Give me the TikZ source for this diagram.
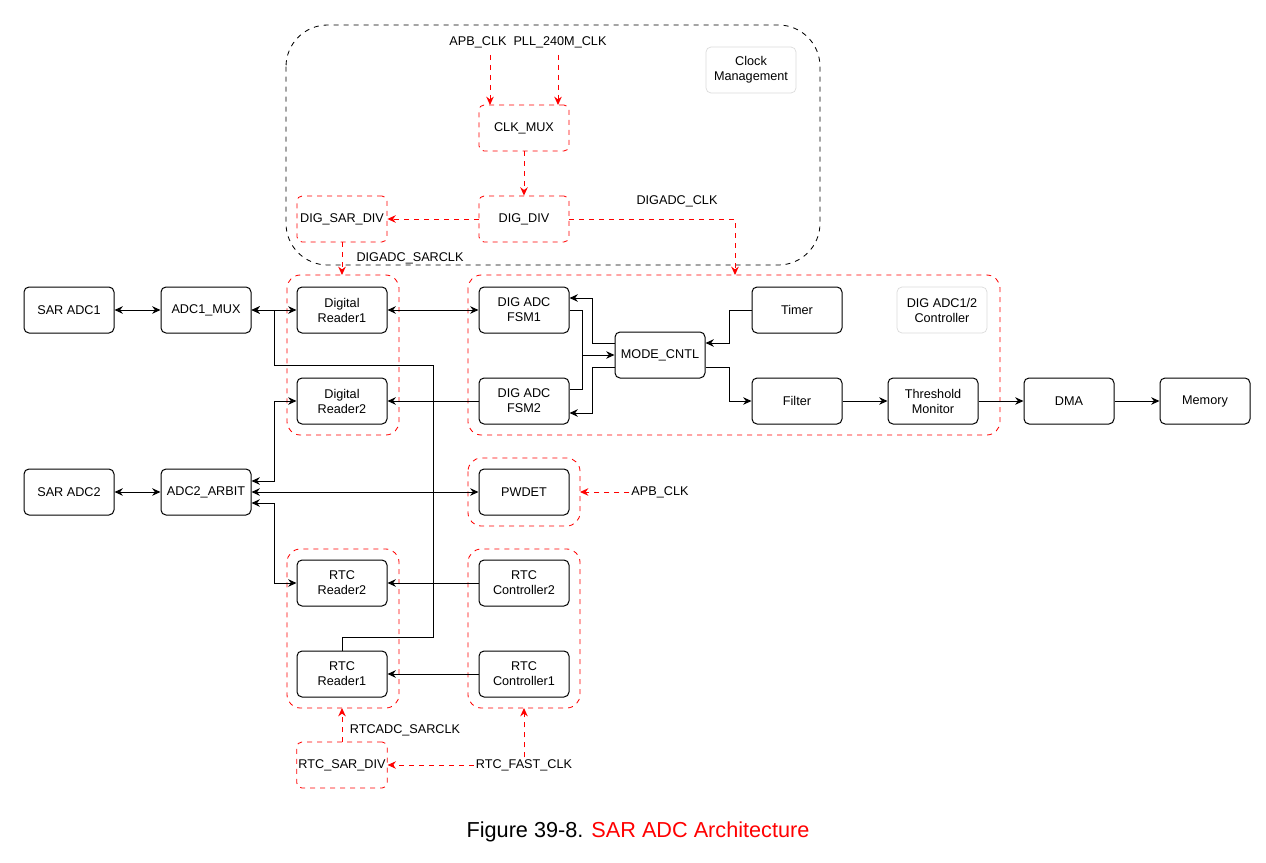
\documentclass[tikz,border=0pt]{standalone}
\usepackage{fontspec}
\setmainfont{Liberation Sans}
\usetikzlibrary{arrows.meta}
\begin{document}
\begin{tikzpicture}[x=0.6pt,y=-0.6pt,
  box/.style={draw,rounded corners=3pt,minimum width=54pt,minimum height=27.6pt,align=center,font=\fontsize{7.6}{9}\selectfont,inner sep=1pt,line width=0.6pt},
  lbl/.style={font=\fontsize{7.6}{9}\selectfont,inner sep=1pt},
  grp/.style={draw=red,dashed,rounded corners=8pt,line width=0.5pt},
  cbox/.style={draw=gray!30,rounded corners=3pt,minimum width=54pt,minimum height=27.6pt,align=center,font=\fontsize{7.6}{9}\selectfont,inner sep=1pt},
  ar/.style={-{Stealth[length=5pt,width=4.5pt]},line width=0.6pt},
  bar/.style={{Stealth[length=5pt,width=4.5pt]}-{Stealth[length=5pt,width=4.5pt]},line width=0.6pt},
  rar/.style={-{Stealth[length=5pt,width=4.5pt]},red,dashed,line width=0.6pt},
  rbox/.style={box,draw=red,dashed,line width=0.5pt}]
\useasboundingbox (0,0) rectangle (1266,863);
% groups
\draw[dashed,rounded corners=25pt,line width=0.5pt] (286,25) rectangle (820,265);
\draw[grp] (287,275) rectangle (399,435);
\draw[grp] (468,275) rectangle (1000,435);
\draw[grp] (468,458) rectangle (580,526);
\draw[grp] (287,549) rectangle (399,708);
\draw[grp] (468,549) rectangle (580,708);
% nodes
\node[box] (sar1) at (69,310) {SAR ADC1};
\node[box] (mux1) at (206,310) {ADC1\_MUX};
\node[box] (dr1) at (342,310) {Digital\\Reader1};
\node[box] (dr2) at (342,401) {Digital\\Reader2};
\node[box] (sar2) at (69,492) {SAR ADC2};
\node[box] (arb) at (206,492) {ADC2\_ARBIT};
\node[box] (rr2) at (342,583) {RTC\\Reader2};
\node[box] (rr1) at (342,674) {RTC\\Reader1};
\node[box] (fsm1) at (524,310) {DIG ADC\\FSM1};
\node[box] (fsm2) at (524,401) {DIG ADC\\FSM2};
\node[box] (mode) at (660,355) {MODE\_CNTL};
\node[box] (timer) at (797,310) {Timer};
\node[box] (filter) at (797,401) {Filter};
\node[box] (thr) at (933,401) {Threshold\\Monitor};
\node[box] (dma) at (1069,401) {DMA};
\node[box] (mem) at (1205,401) {Memory};
\node[box] (pwdet) at (524,492) {PWDET};
\node[box] (rc2) at (524,583) {RTC\\Controller2};
\node[box] (rc1) at (524,674) {RTC\\Controller1};
\node[rbox] (clkmux) at (524,128) {CLK\_MUX};
\node[rbox] (digdiv) at (524,219) {DIG\_DIV};
\node[rbox] (sardiv) at (342,219) {DIG\_SAR\_DIV};
\node[rbox] (rtcdiv) at (342,765) {RTC\_SAR\_DIV};
\node[cbox] (cm) at (751,70) {Clock\\Management};
\node[cbox] (dc) at (942,310) {DIG ADC1/2\\Controller};
% labels
\node[lbl] (apb) at (478,42) {APB\_CLK};
\node[lbl] (pll) at (560,42) {PLL\_240M\_CLK};
\node[lbl] (digclk) at (677,201) {DIGADC\_CLK};
\node[lbl] (sarclk) at (410,258) {DIGADC\_SARCLK};
\node[lbl] (apb2) at (660,492) {APB\_CLK};
\node[lbl] (rtcsar) at (405,730) {RTCADC\_SARCLK};
\node[lbl] (fast) at (524,765) {RTC\_FAST\_CLK};
\coordinate (c1) at (735,275);
\coordinate (c2) at (342,275);
\coordinate (c3) at (342,708);
\coordinate (c4) at (524,708);
% red arrows
\draw[rar] (490,55) -- (490,105);
\draw[rar] (558,55) -- (558,105);
\draw[rar] (clkmux) -- (digdiv);
\draw[rar] (digdiv) -- (sardiv);
\draw[rar] (digdiv.east) -| (c1);
\draw[rar] (sardiv) -- (c2);
\draw[rar] (apb2) -- (pwdet.east -| 580,0);
\draw[rar] (rtcdiv) -- (c3);
\draw[rar] (fast) -- (rtcdiv);
\draw[rar] (fast) -- (c4);
% black
\draw[bar] (sar1) -- (mux1);
\draw[bar] (mux1) -- (dr1);
\draw[ar,line width=0.6pt] (rr1.north) -- (342,637) -- (433,637) -- (433,365) -- (274,365) -- (274,310) -- (mux1.east);
\draw[bar] (dr1) -- (fsm1);
\draw[ar] (fsm2) -- (dr2);
\draw[bar] (arb.east |- 0,481) -- (274,481) -- (274,401) -- (dr2.west);
\draw[bar] (arb) -- (pwdet);
\draw[bar] (arb.east |- 0,503) -- (274,503) -- (274,583) -- (rr2.west);
\draw[ar] (rc2) -- (rr2);
\draw[ar] (rc1) -- (rr1);
\draw[bar] (sar2) -- (arb);
\draw[ar] (mode.west |- 0,343) -- (592,343) -- (592,298) -- (fsm1.east |- 0,298);
\draw[ar] (mode.west |- 0,367) -- (592,367) -- (592,413) -- (fsm2.east |- 0,413);
\draw[line width=0.6pt] (fsm1.east |- 0,310) -- (582,310) -- (582,389) -- (fsm2.east |- 0,389);
\draw[ar] (582,355) -- (mode.west);
\draw[ar] (timer.west) -- (729,310) -- (729,343) -- (mode.east |- 0,343);
\draw[ar] (mode.east |- 0,367) -- (729,367) -- (729,401) -- (filter.west);
\draw[ar] (filter) -- (thr);
\draw[ar] (thr) -- (dma);
\draw[ar] (dma) -- (mem);
\node[font=\fontsize{13}{15}\selectfont] (cap) at (638,832) {Figure 39-8. \textcolor{red}{SAR ADC Architecture}};
\end{tikzpicture}
\end{document}
